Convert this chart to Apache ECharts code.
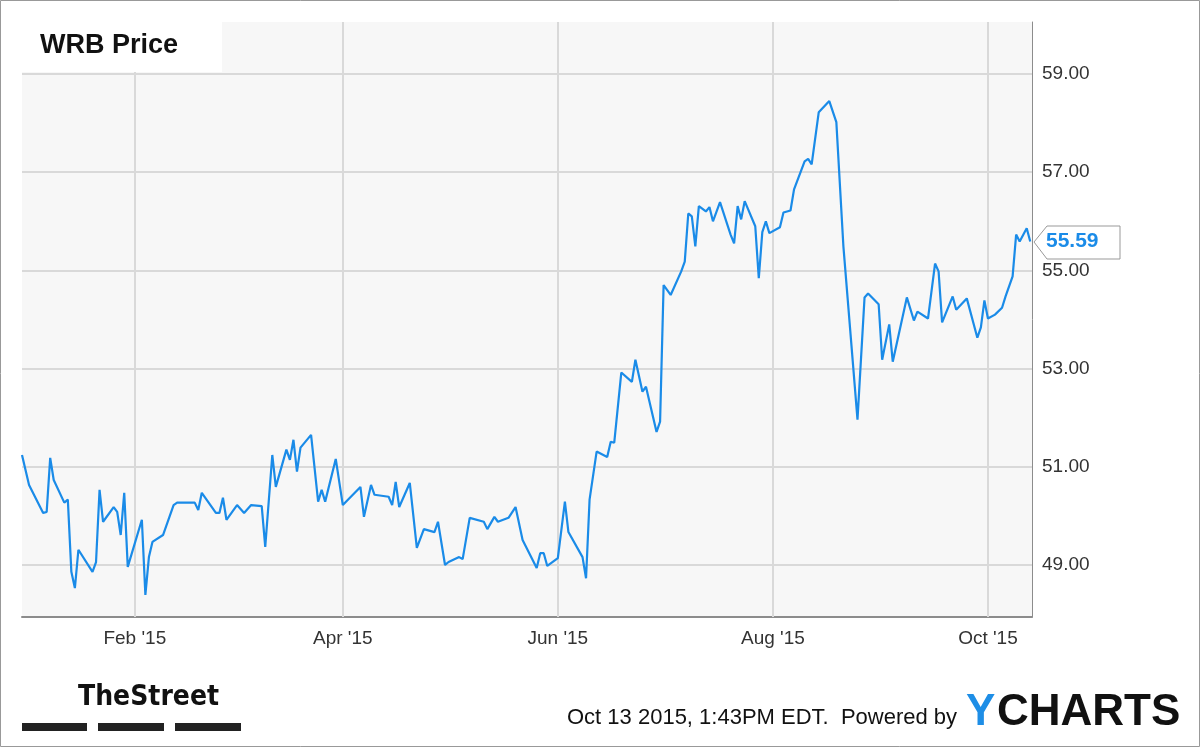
<!DOCTYPE html>
<html>
<head>
<meta charset="utf-8">
<title>WRB Price</title>
<script src="https://cdn.jsdelivr.net/npm/echarts@6/dist/echarts.min.js"></script>
<style>
  html, body { margin: 0; padding: 0; background: #fff; }
  #chart { width: 1200px; height: 747px; }
</style>
</head>
<body>
<div id="chart"></div>
<script>
// WRB daily close
var dates = [
  '2014-12-31','2015-01-02','2015-01-06','2015-01-07','2015-01-08','2015-01-09','2015-01-12','2015-01-13',
  '2015-01-14','2015-01-15','2015-01-16','2015-01-20','2015-01-21','2015-01-22','2015-01-23','2015-01-26',
  '2015-01-27','2015-01-28','2015-01-29','2015-01-30','2015-02-03','2015-02-04','2015-02-05','2015-02-06',
  '2015-02-09','2015-02-12','2015-02-13','2015-02-18','2015-02-19','2015-02-20','2015-02-24','2015-02-25',
  '2015-02-26','2015-02-27','2015-03-02','2015-03-04','2015-03-06','2015-03-09','2015-03-10','2015-03-12',
  '2015-03-13','2015-03-16','2015-03-17','2015-03-18','2015-03-19','2015-03-20','2015-03-23','2015-03-25',
  '2015-03-26','2015-03-27','2015-03-30','2015-04-01','2015-04-06','2015-04-07','2015-04-09','2015-04-10',
  '2015-04-14','2015-04-15','2015-04-16','2015-04-17','2015-04-20','2015-04-22','2015-04-24','2015-04-27',
  '2015-04-28','2015-04-30','2015-05-01','2015-05-04','2015-05-05','2015-05-07','2015-05-11','2015-05-12',
  '2015-05-14','2015-05-15','2015-05-18','2015-05-20','2015-05-22','2015-05-26','2015-05-27','2015-05-28',
  '2015-05-29','2015-06-01','2015-06-03','2015-06-04','2015-06-08','2015-06-09','2015-06-10','2015-06-12',
  '2015-06-15','2015-06-16','2015-06-17','2015-06-19','2015-06-22','2015-06-23','2015-06-25','2015-06-26',
  '2015-06-29','2015-06-30','2015-07-01','2015-07-03','2015-07-06','2015-07-07','2015-07-08','2015-07-09',
  '2015-07-10','2015-07-11','2015-07-13','2015-07-14','2015-07-15','2015-07-17','2015-07-20','2015-07-21',
  '2015-07-22','2015-07-23','2015-07-24','2015-07-27','2015-07-28','2015-07-29','2015-07-30','2015-07-31',
  '2015-08-03','2015-08-04','2015-08-06','2015-08-07','2015-08-10','2015-08-11','2015-08-12','2015-08-14',
  '2015-08-17','2015-08-19','2015-08-21','2015-08-25','2015-08-27','2015-08-28','2015-08-31','2015-09-01',
  '2015-09-03','2015-09-04','2015-09-08','2015-09-10','2015-09-11','2015-09-14','2015-09-16','2015-09-17',
  '2015-09-18','2015-09-21','2015-09-22','2015-09-25','2015-09-28','2015-09-29','2015-09-30','2015-10-01',
  '2015-10-03','2015-10-05','2015-10-06','2015-10-08','2015-10-09','2015-10-10','2015-10-12','2015-10-13'
];
var prices = [
  51.24,50.63,50.06,50.08,51.18,50.73,50.27,50.33,
  48.86,48.53,49.31,48.86,49.06,50.53,49.88,50.18,
  50.08,49.61,50.47,48.96,49.92,48.39,49.16,49.47,
  49.61,50.22,50.27,50.27,50.12,50.47,50.06,50.06,
  50.37,49.92,50.22,50.06,50.22,50.20,49.37,51.24,
  50.59,51.35,51.14,51.55,50.90,51.39,51.65,50.29,
  50.53,50.29,51.16,50.22,50.59,49.98,50.63,50.43,
  50.39,50.22,50.69,50.18,50.67,49.35,49.73,49.67,
  49.88,49.00,49.06,49.16,49.12,49.96,49.88,49.73,
  49.98,49.88,49.96,50.18,49.51,48.94,49.24,49.24,
  48.98,49.14,50.29,49.67,49.16,48.73,50.33,51.31,
  51.20,51.51,51.49,52.92,52.73,53.18,52.53,52.63,
  51.71,51.92,54.70,54.50,54.98,55.18,56.16,56.10,
  55.49,56.31,56.20,56.29,56.00,56.39,55.73,55.55,
  56.31,56.04,56.41,55.90,54.84,55.78,56.00,55.76,
  55.88,56.18,56.22,56.65,57.22,57.27,57.16,58.22,
  58.45,58.02,55.49,51.96,54.45,54.53,54.31,53.18,
  53.90,53.14,54.45,53.98,54.16,54.02,55.14,54.98,
  53.94,54.47,54.20,54.43,53.63,53.84,54.39,54.02,
  54.10,54.24,54.47,54.88,55.73,55.59,55.86,55.59
];
var yTicks = [49, 51, 53, 55, 57, 59];
var xTicks = ['2015-02-01', '2015-04-01', '2015-06-01', '2015-08-01', '2015-10-01'];
var monthNames = ['Jan','Feb','Mar','Apr','May','Jun','Jul','Aug','Sep','Oct','Nov','Dec'];
var lastPrice = '55.59';

var chart = echarts.init(document.getElementById('chart'));
var gridColor = '#d9d9d9';
var lineBlue = '#1a8be8';

var hLines = yTicks.map(function (v) {
  return { yAxis: v, label: { formatter: v.toFixed(2) } };
});
var vLines = xTicks.map(function (d) {
  var p = d.split('-');
  return { xAxis: d, label: { formatter: monthNames[+p[1] - 1] + " '" + p[0].slice(2) } };
});

option = {
  animation: false,
  backgroundColor: '#fff',
  grid: { left: 22, right: 168, top: 22, bottom: 130, show: true, backgroundColor: '#f7f7f7', borderWidth: 0 },
  xAxis: {
    type: 'time',
    min: '2014-12-31',
    max: '2015-10-13 12:00',
    axisLine: { show: true, lineStyle: { color: '#8c8c8c', width: 2 } },
    axisTick: { show: false },
    axisLabel: { show: false },
    splitLine: { show: false }
  },
  yAxis: {
    type: 'value',
    min: 47.94,
    max: 60.06,
    position: 'right',
    axisLine: { show: true, lineStyle: { color: '#8c8c8c', width: 1 } },
    axisTick: { show: false },
    axisLabel: { show: false },
    splitLine: { show: false }
  },
  series: [
    {
      type: 'line', silent: true, data: [],
      markLine: {
        silent: true, symbol: 'none', animation: false,
        lineStyle: { color: gridColor, type: 'solid', width: 2 },
        label: { position: 'end', color: '#333', fontFamily: 'Liberation Sans, Arial', fontSize: 19, distance: 10 },
        data: hLines
      }
    },
    {
      type: 'line', silent: true, data: [],
      markLine: {
        silent: true, symbol: 'none', animation: false,
        lineStyle: { color: gridColor, type: 'solid', width: 2 },
        label: { position: 'start', color: '#333', fontFamily: 'Liberation Sans, Arial', fontSize: 19, distance: 12 },
        data: vLines
      }
    },
    {
      name: 'WRB', type: 'line', showSymbol: false,
      data: dates.map(function (d, i) { return [d, prices[i]]; }),
      lineStyle: { color: lineBlue, width: 2.2 },
      itemStyle: { color: lineBlue },
      z: 5
    }
  ],
  graphic: [
    { type: 'rect', shape: { x: 0.5, y: 0.5, width: 1199, height: 746 }, style: { fill: 'none', stroke: '#999', lineWidth: 1 }, z: 100 },
    { type: 'rect', shape: { x: 22, y: 22, width: 200, height: 50 }, style: { fill: '#fff' }, z: 20 },
    { type: 'text', left: 40, top: 32, style: { text: 'WRB Price', fill: '#111', font: 'bold 27px "Liberation Sans", Arial' }, z: 21 },
    { type: 'polygon', shape: { points: [[1034, 242], [1047, 226], [1120, 226], [1120, 259], [1047, 259]] },
      style: { fill: '#fff', stroke: '#999', lineWidth: 1 }, z: 20 },
    { type: 'text', left: 1046, top: 231, style: { text: lastPrice, fill: lineBlue, font: 'bold 21px "Liberation Sans", Arial' }, z: 21 },
    { type: 'text', left: 78, top: 684, style: { text: 'TheStreet', fill: '#111', font: 'bold 28px "Liberation Sans Narrow", "DejaVu Sans Condensed", Arial' }, z: 21 },
    { type: 'rect', shape: { x: 22, y: 723, width: 65, height: 8 }, style: { fill: '#222' } },
    { type: 'rect', shape: { x: 98, y: 723, width: 66, height: 8 }, style: { fill: '#222' } },
    { type: 'rect', shape: { x: 175, y: 723, width: 66, height: 8 }, style: { fill: '#222' } },
    { type: 'text', left: 567, top: 707, style: { text: 'Oct 13 2015, 1:43PM EDT.  Powered by', fill: '#111', font: '22px "Liberation Sans Narrow", "Liberation Sans", Arial' } },
    { type: 'text', left: 966, top: 691, style: { text: 'Y', fill: '#1e8ee6', font: 'bold 44px "Liberation Sans", Arial' } },
    { type: 'text', left: 997, top: 691, style: { text: 'CHARTS', fill: '#111', font: 'bold 44px "Liberation Sans Narrow", "Liberation Sans", Arial' } }
  ]
};
chart.setOption(option);
</script>
</body>
</html>
